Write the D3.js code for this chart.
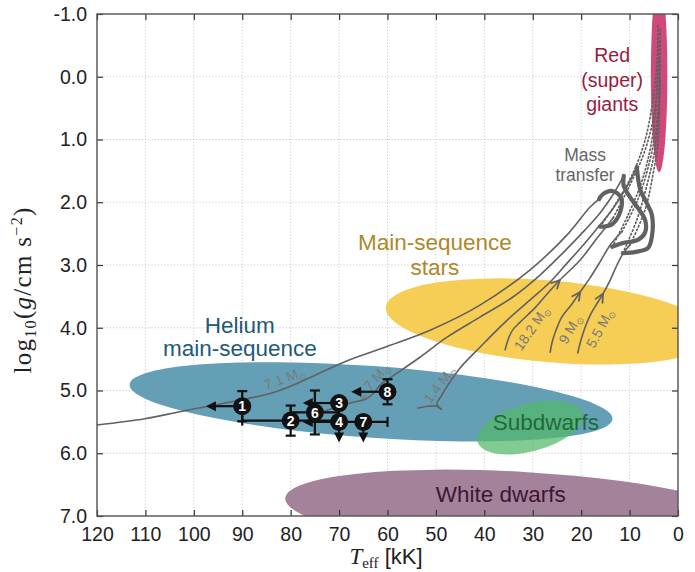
<!DOCTYPE html>
<html><head><meta charset="utf-8">
<script src="https://cdn.jsdelivr.net/npm/d3@7"></script>
<style>body{margin:0;background:#fff}svg{display:block}</style>
</head><body><svg id="c" width="695" height="572"></svg>
<script>
// ---------------- DATA ----------------
const xTicks = [120,110,100,90,80,70,60,50,40,30,20,10,0];
const yTicks = [-1,0,1,2,3,4,5,6,7];

// observed stars
const starIds      = ["1","2","3","4","6","7","8"];
const starTeff     = [90, 80, 70, 70, 75, 65, 60];
const starLogg     = [5.25, 5.48, 5.20, 5.50, 5.35, 5.50, 5.02];
const starTeffErr  = [0, 10, 0, 0, 5, 5, 0];
const starLoggErr  = [0.24, 0.24, 0, 0, 0.35, 0, 0.20];
const starTeffLower= [true,false,true,true,false,false,true];
const starLoggLower= [false,false,false,true,false,true,false];

// populated regions (ellipses): centre Teff/logg, radii in kK / dex, tilt (deg)
const regionNames = ["White dwarfs","Main-sequence stars","Helium main-sequence","Subdwarfs","Red (super) giants"];
const regionTeff  = [31.6, 26.4, 63.4, 30.6, 3.9];
const regionLogg  = [6.95, 3.90, 5.18, 5.59, -0.03];
const regionRT    = [49.6, 34.1, 50.0, 11.2, 1.7];
const regionRG    = [0.65, 0.65, 0.57, 0.38, 1.55];
const regionTilt  = [3.5, 5, 4.1, -15, 0];

// evolutionary tracks [Teff kK, logg]
const track71  = [[120,5.55],[110.1,5.45],[102.4,5.33],[93.6,5.20],[83.9,5.04],[77.0,4.83],[68.8,4.54],[60.5,4.31],[51.2,4.04],[40.9,3.64],[30.6,3.08],[22.9,2.52],[18.2,2.08],[16.3,1.95]];
const track27  = [[73.5,5.34],[67.7,5.20],[64.6,5.14],[62.8,5.04],[61.5,4.91],[59.1,4.78],[53.3,4.47],[47.7,4.15],[40.9,3.83],[34.1,3.51],[28.5,3.16],[23.8,2.81],[19.2,2.44],[16.1,2.17],[13.6,1.90],[11.2,1.58]];
const track14  = [[53.7,5.28],[51.6,5.25],[49.8,5.25],[48.9,5.30],[49.8,5.21],[48.9,5.09],[47.5,4.91],[45.0,4.64],[40.9,4.31],[35.7,3.91],[30.6,3.56],[26.4,3.27],[22.9,2.97],[19.2,2.65],[16.1,2.36],[13.6,2.12],[10.9,1.80],[8.5,1.44]];
const track182 = [[35.7,4.35],[35.1,4.19],[34.1,4.03],[32.6,3.91],[29.5,3.68],[26.9,3.45],[24.4,3.24],[20.2,2.92],[16.7,2.57],[13.4,2.25]];
const track9   = [[26.4,4.39],[26.0,4.23],[25.2,4.04],[24.0,3.83],[21.9,3.62],[20.2,3.43],[18.2,3.21],[16.1,2.95],[14.0,2.68],[11.6,2.47]];
const track55  = [[20.7,4.40],[20.2,4.24],[19.4,4.04],[18.2,3.81],[16.7,3.61],[15.5,3.46],[14.0,3.24],[12.6,3.00],[11.2,2.80],[9.9,2.68]];
// mass-transfer phases (thick)
const mt1 = [[16.3,1.95],[15.5,1.87],[13.6,1.82],[11.8,1.92],[11.8,2.12],[13.6,2.35],[16.1,2.39]];
const mt2 = [[11.2,1.58],[11.2,1.74],[9.9,1.92],[8.3,2.09],[6.8,2.28],[6.8,2.48],[8.3,2.60],[11.4,2.65],[13.6,2.71]];
const mt3 = [[8.5,1.44],[7.8,1.80],[6.6,1.99],[5.4,2.20],[5.4,2.55],[6.2,2.73],[8.7,2.79],[11.4,2.81]];
// later (dotted) evolution towards red giants
const dot1 = [[16.1,2.39],[13.0,2.04],[9.5,1.57],[6.8,1.01],[5.2,0.37],[4.3,-0.27],[4.1,-0.82]];
const dot2 = [[13.6,2.71],[10.3,2.20],[7.4,1.65],[5.4,1.01],[4.3,0.21],[3.9,-0.59]];
const dot3 = [[11.4,2.81],[8.5,2.28],[6.4,1.72],[4.8,1.17],[3.9,0.37],[3.7,-0.75]];
const dot4 = [[13.4,2.25],[9.9,1.72],[6.8,1.17],[4.8,0.53],[4.1,-0.27]];
const dot5 = [[11.6,2.47],[8.3,1.96],[5.8,1.33],[4.3,0.69],[3.7,-0.27]];
const dot6 = [[9.9,2.68],[6.8,2.12],[5.2,1.57],[4.1,1.01],[3.7,0.05]];

const trackLabels = ["7.1","2.7","1.4","18.2","9","5.5"];
const trackLabelTeff = [81.2, 63.0, 49.2, 30.2, 22.3, 16.1];
const trackLabelLogg = [4.80, 4.85, 4.90, 4.00, 4.02, 4.00];
const trackLabelRot  = [-20, -48, -52, -55, -60, -62];

// ---------------- DRAW ----------------
const svg = d3.select('#c');
const L=97,R=678,T=14,B=516;
const x = d3.scaleLinear().domain([120,0]).range([L,R]);
const y = d3.scaleLinear().domain([-1,7]).range([T,B]);
const sans = '"Liberation Sans", Arial, Helvetica, sans-serif';
const serif = '"Liberation Serif", "DejaVu Serif", serif';

svg.append('rect').attr('width',695).attr('height',572).attr('fill','#fff');
svg.append('defs').append('clipPath').attr('id','clip')
  .append('rect').attr('x',L).attr('y',T).attr('width',R-L).attr('height',B-T);

// grid
const grid = svg.append('g').attr('stroke','#c4c4c4').attr('stroke-width',0.9).attr('stroke-dasharray','1.2,2');
xTicks.forEach(t=>grid.append('line').attr('x1',x(t)).attr('x2',x(t)).attr('y1',T).attr('y2',B));
yTicks.forEach(t=>grid.append('line').attr('y1',y(t)).attr('y2',y(t)).attr('x1',L).attr('x2',R));

// regions
const regionFill = ["#a48299","#f6cd55","#659fb6","#53b96b","#d0497a"];
const regionOp   = [1,1,1,0.73,1];
const plot = svg.append('g').attr('clip-path','url(#clip)');
regionNames.forEach((n,i)=>{
  const cx=x(regionTeff[i]), cy=y(regionLogg[i]);
  plot.append('ellipse').attr('cx',cx).attr('cy',cy)
    .attr('rx',x(0)-x(regionRT[i])).attr('ry',y(regionRG[i])-y(0))
    .attr('transform',`rotate(${regionTilt[i]} ${cx} ${cy})`)
    .attr('fill',regionFill[i]).attr('fill-opacity',regionOp[i]);
});

// tracks
const line = d3.line().x(d=>x(d[0])).y(d=>y(d[1])).curve(d3.curveCatmullRom.alpha(0.5));
const trk = plot.append('g').attr('fill','none').attr('stroke','#616161').attr('stroke-linecap','round').attr('stroke-linejoin','round');
[dot1,dot2,dot3,dot4,dot5,dot6].forEach(d=>trk.append('path').attr('d',line(d)).attr('stroke-width',1.7).attr('stroke-dasharray','1.4,2.6'));
[track71,track27,track14,track182,track9,track55].forEach(d=>trk.append('path').attr('d',line(d)).attr('stroke-width',1.6));
[mt1,mt2,mt3].forEach(d=>trk.append('path').attr('d',line(d)).attr('stroke-width',4.2));
// direction chevrons
[[track182,6],[track9,5],[track55,5]].forEach(([d,i])=>{
  const p0=[x(d[i-1][0]),y(d[i-1][1])], p=[x(d[i][0]),y(d[i][1])], p1=[x(d[i+1][0]),y(d[i+1][1])];
  let dx=p1[0]-p0[0], dy=p1[1]-p0[1]; const len=Math.hypot(dx,dy); dx/=len; dy/=len;
  const b1=[p[0]-8*dx-4*dy, p[1]-8*dy+4*dx], b2=[p[0]-8*dx+4*dy, p[1]-8*dy-4*dx];
  trk.append('path').attr('d',`M${b1}L${p}L${b2}`).attr('stroke-width',1.8);
});

// track labels
trackLabels.forEach((t,i)=>{
  const tx=x(trackLabelTeff[i]), ty=y(trackLabelLogg[i]);
  const te=svg.append('text').attr('transform',`translate(${tx},${ty}) rotate(${trackLabelRot[i]})`)
    .attr('text-anchor','middle').attr('dy','0.35em').attr('font-family',sans).attr('font-size',14).attr('fill','#7a7a7a');
  te.append('tspan').text(t+' M');
  te.append('tspan').attr('font-size',9).attr('dy',3).text('⊙');
});

// region labels
const labels = [
  {lines:["Red","(super)","giants"], t:13.6, g:[-0.35,0.05,0.43], c:"#9a1b40", s:19.5},
  {lines:["Mass","transfer"], t:19.2, g:[1.25,1.57], c:"#666", s:17.5},
  {lines:["Main-sequence","stars"], t:50.2, g:[2.63,3.03], c:"#b0862a", s:22.5},
  {lines:["Helium","main-sequence"], t:90.5, g:[3.96,4.33], c:"#1d5a78", s:22.5},
  {lines:["Subdwarfs"], t:27.3, g:[5.50], c:"#1f6a3a", s:22.5},
  {lines:["White dwarfs"], t:36.6, g:[6.65], c:"#3d1636", s:22.5}
];
labels.forEach(l=>l.lines.forEach((s,j)=>{
  svg.append('text').attr('x',x(l.t)).attr('y',y(l.g[j])).attr('dy','0.35em')
    .attr('text-anchor','middle').attr('font-family',sans).attr('font-size',l.s).attr('fill',l.c).text(s);
}));

// stars
const st = svg.append('g').attr('stroke','#111').attr('stroke-width',2.2).attr('fill','#111');
const cap=5, arrT=7.5, arrG=0.33;
function arrowHead(g,tip,dir){
  const [tx,ty]=tip,[dx,dy]=dir;
  g.append('path').attr('stroke','none')
   .attr('d',`M${tx},${ty}L${tx-10*dx-5*dy},${ty-10*dy+5*dx}L${tx-10*dx+5*dy},${ty-10*dy-5*dx}Z`);
}
starIds.forEach((id,i)=>{
  const cx=x(starTeff[i]), cy=y(starLogg[i]);
  if(starTeffErr[i]>0){
    const x0=x(starTeff[i]+starTeffErr[i]), x1=x(starTeff[i]-starTeffErr[i]);
    st.append('line').attr('x1',x0).attr('x2',x1).attr('y1',cy).attr('y2',cy);
    [x0,x1].forEach(xx=>st.append('line').attr('x1',xx).attr('x2',xx).attr('y1',cy-cap).attr('y2',cy+cap));
  }
  if(starLoggErr[i]>0){
    const y0=y(starLogg[i]-starLoggErr[i]), y1=y(starLogg[i]+starLoggErr[i]);
    st.append('line').attr('x1',cx).attr('x2',cx).attr('y1',y0).attr('y2',y1);
    [y0,y1].forEach(yy=>st.append('line').attr('y1',yy).attr('y2',yy).attr('x1',cx-cap).attr('x2',cx+cap));
  }
  if(starTeffLower[i]){
    const xe=x(starTeff[i]+arrT);
    st.append('line').attr('x1',cx).attr('x2',xe+6).attr('y1',cy).attr('y2',cy);
    arrowHead(st,[xe,cy],[-1,0]);
  }
  if(starLoggLower[i]){
    const ye=y(starLogg[i]+arrG);
    st.append('line').attr('x1',cx).attr('x2',cx).attr('y1',cy).attr('y2',ye-6);
    arrowHead(st,[cx,ye],[0,1]);
  }
});
starIds.forEach((id,i)=>{
  const cx=x(starTeff[i]), cy=y(starLogg[i]);
  svg.append('circle').attr('cx',cx).attr('cy',cy).attr('r',9).attr('fill','#111');
  svg.append('text').attr('x',cx).attr('y',cy).attr('dy','0.36em').attr('text-anchor','middle')
    .attr('font-family',sans).attr('font-weight','bold').attr('font-size',14).attr('fill','#fff').text(id);
});

// axes
const fmt = d=>d.toFixed(1);
const ax = svg.append('g');
const gB = ax.append('g').attr('transform',`translate(0,${B})`)
  .call(d3.axisBottom(x).tickValues(xTicks).tickSize(-6).tickPadding(11).tickFormat(d=>d));
const gL = ax.append('g').attr('transform',`translate(${L},0)`)
  .call(d3.axisLeft(y).tickValues(yTicks).tickSize(-6).tickPadding(10).tickFormat(fmt));
const gR = ax.append('g').attr('transform',`translate(${R},0)`)
  .call(d3.axisRight(y).tickValues(yTicks).tickSize(-6).tickFormat(''));
const gT = ax.append('g').attr('transform',`translate(0,${T})`)
  .call(d3.axisTop(x).tickValues(xTicks).tickSize(-6).tickFormat(''));
[gB,gL,gR,gT].forEach(g=>{
  g.select('.domain').remove();
  g.selectAll('line').attr('stroke','#333').attr('stroke-width',1.2);
  g.selectAll('text').attr('font-family',sans).attr('font-size',19.5).attr('fill','#222');
});
svg.append('rect').attr('x',L).attr('y',T).attr('width',R-L).attr('height',B-T)
  .attr('fill','none').attr('stroke','#555').attr('stroke-width',1.4);

// axis titles
const yl = svg.append('text').attr('transform','translate(31,290) rotate(-90)')
  .attr('text-anchor','middle').attr('font-family',serif).attr('font-size',25).attr('letter-spacing',1.3).attr('fill','#222');
yl.append('tspan').text('log');
yl.append('tspan').attr('font-size',16).attr('dy',5).text('10');
yl.append('tspan').attr('dy',-5).text('(');
yl.append('tspan').attr('font-style','italic').text('g');
yl.append('tspan').text('/cm s');
yl.append('tspan').attr('font-size',16).attr('dy',-9).text('−2');
yl.append('tspan').attr('dy',9).text(')');

const xl = svg.append('text').attr('x',386).attr('y',564).attr('text-anchor','middle').attr('fill','#222');
xl.append('tspan').attr('font-family',serif).attr('font-style','italic').attr('font-size',23).text('T');
xl.append('tspan').attr('font-family',serif).attr('font-size',15).attr('dy',4).text('eff');
xl.append('tspan').attr('font-family',sans).attr('font-size',22).attr('dy',-4).text(' [kK]');
</script></body></html>
